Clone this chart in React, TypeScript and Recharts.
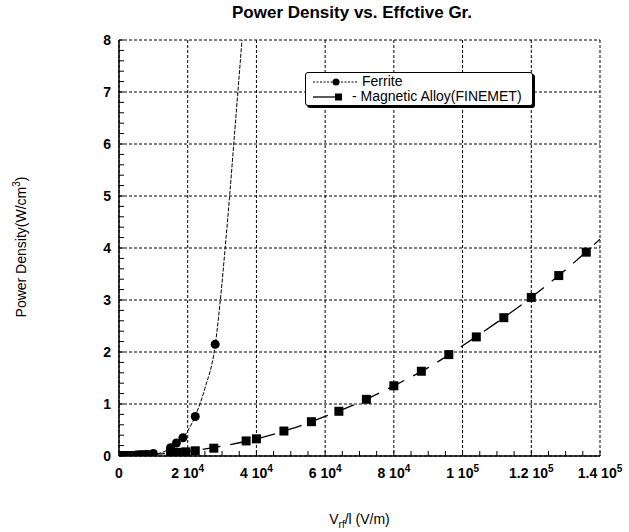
import React from 'react';
import { ComposedChart, Line, XAxis, YAxis, CartesianGrid } from 'recharts';

const ferriteX = [2000, 4000, 6000, 8000, 10000, 15000, 16700, 18600, 22200, 28000];
const ferriteY = [0.01, 0.01, 0.02, 0.03, 0.05, 0.16, 0.25, 0.35, 0.76, 2.15];

const alloyX = [1500, 3000, 4500, 6000, 7500, 9000, 15000, 17000, 19500, 22200, 27600, 37000, 40000, 48000, 56000, 64000, 72000, 80000, 88000, 96000, 104000, 112000, 120000, 128000, 136000];
const alloyY = [0.01, 0.01, 0.01, 0.02, 0.02, 0.02, 0.06, 0.07, 0.08, 0.1, 0.15, 0.29, 0.33, 0.48, 0.66, 0.86, 1.09, 1.35, 1.63, 1.95, 2.29, 2.66, 3.05, 3.47, 3.92];

// fitted curves as drawn in the original
const ferriteFitX = [0, 5000, 10000, 14000, 17000, 20000, 22000, 25000, 28000, 29500, 30900, 32200, 33400, 34600, 35800];
const ferriteFitY = [0, 0.005, 0.03, 0.11, 0.25, 0.48, 0.74, 1.3, 2.13, 3, 4, 5, 6, 7, 8];

const alloyFitX = [0, 10000, 20000, 30000, 40000, 50000, 60000, 70000, 80000, 90000, 100000, 110000, 120000, 130000, 140000];
const alloyFitY = [0, 0.03, 0.09, 0.19, 0.33, 0.52, 0.76, 1.03, 1.35, 1.7, 2.12, 2.57, 3.05, 3.58, 4.17];

const xMajorTicks = [0, 20000, 40000, 60000, 80000, 100000, 120000, 140000];
const xTickMantissa = ['0', '2', '4', '6', '8', '1', '1.2', '1.4'];
const xTickExponent = ['', '4', '4', '4', '4', '5', '5', '5'];
const yMajorTicks = [0, 1, 2, 3, 4, 5, 6, 7, 8];

const xMinorTicks = Array.from({ length: 29 }, (_, i) => i * 5000);
const yMinorTicks = Array.from({ length: 41 }, (_, i) => Math.round(i * 2) / 10);

const toRows = (xs: number[], ys: number[]) => xs.map((x, i) => ({ x, y: ys[i] }));
const ferritePts = toRows(ferriteX, ferriteY);
const alloyPts = toRows(alloyX, alloyY);
const ferriteFit = toRows(ferriteFitX, ferriteFitY);
const alloyFit = toRows(alloyFitX, alloyFitY);

const FONT = '"Liberation Sans", Arial, Helvetica, sans-serif';

const BottomTick = (props: any) => {
  const { x, y, payload } = props;
  const i = xMajorTicks.indexOf(payload.value);
  return (
    <g>
      <line x1={x} y1={y} x2={x} y2={y - 5} stroke="#000" />
      {i >= 0 && (
        <text x={x} y={y + 22} textAnchor="middle" fontWeight="bold" fontSize={14} fill="#000" fontFamily={FONT}>
          {xTickMantissa[i]}
          {xTickExponent[i] !== '' && ' 10'}
          {xTickExponent[i] !== '' && (
            <tspan dy={-6} fontSize={10}>{xTickExponent[i]}</tspan>
          )}
        </text>
      )}
    </g>
  );
};

const TopTick = (props: any) => {
  const { x, y } = props;
  return <line x1={x} y1={y} x2={x} y2={y + 5} stroke="#000" />;
};

const LeftTick = (props: any) => {
  const { x, y, payload } = props;
  const v = payload.value;
  const isMajor = Math.abs(v - Math.round(v)) < 1e-6;
  return (
    <g>
      <line x1={x} y1={y} x2={x + 5} y2={y} stroke="#000" />
      {isMajor && (
        <text x={x - 8} y={y + 5} textAnchor="end" fontWeight="bold" fontSize={14} fill="#000" fontFamily={FONT}>
          {Math.round(v)}
        </text>
      )}
    </g>
  );
};

const RightTick = (props: any) => {
  const { x, y } = props;
  return <line x1={x} y1={y} x2={x - 5} y2={y} stroke="#000" />;
};

const CircleDot = (props: any) => {
  const { cx, cy, index } = props;
  return <circle key={`c${index}`} cx={cx} cy={cy} r={4.5} fill="#000" />;
};

const SquareDot = (props: any) => {
  const { cx, cy, index } = props;
  return <rect key={`s${index}`} x={cx - 4.5} y={cy - 4.5} width={9} height={9} fill="#000" />;
};

export default function App() {
  return (
    <div style={{ position: 'absolute', left: 0, top: 0, width: 629, height: 532, background: '#fff', fontFamily: FONT, overflow: 'hidden' }}>
      <div style={{ position: 'absolute', left: 252, width: 200, top: 3, textAlign: 'center', fontWeight: 'bold', fontSize: 17, color: '#000', whiteSpace: 'nowrap', display: 'flex', justifyContent: 'center' }}>
        Power Density vs. Effctive Gr.
      </div>
      <ComposedChart width={629} height={532} margin={{ top: 40, right: 29, bottom: 0, left: 0 }}>
        <YAxis
          yAxisId="l"
          orientation="left"
          type="number"
          domain={[0, 8]}
          ticks={yMinorTicks}
          interval={0}
          width={119}
          tickSize={0}
          tickMargin={0}
          tickLine={false}
          tick={<LeftTick />}
          axisLine={{ stroke: '#000', strokeWidth: 1.5 }}
          allowDataOverflow
        />
        <YAxis
          yAxisId="r"
          orientation="right"
          type="number"
          domain={[0, 8]}
          ticks={yMinorTicks}
          interval={0}
          width={0}
          tickSize={0}
          tickMargin={0}
          tickLine={false}
          tick={<RightTick />}
          axisLine={{ stroke: '#000', strokeWidth: 1.5 }}
          allowDataOverflow
        />
        <XAxis
          xAxisId="b"
          orientation="bottom"
          dataKey="x"
          type="number"
          domain={[0, 140000]}
          ticks={xMinorTicks}
          interval={0}
          height={76}
          tickSize={0}
          tickMargin={0}
          tickLine={false}
          tick={<BottomTick />}
          axisLine={{ stroke: '#000', strokeWidth: 1.5 }}
          allowDataOverflow
        />
        <XAxis
          xAxisId="t"
          orientation="top"
          dataKey="x"
          type="number"
          domain={[0, 140000]}
          ticks={xMinorTicks}
          interval={0}
          height={0}
          tickSize={0}
          tickMargin={0}
          tickLine={false}
          tick={<TopTick />}
          axisLine={{ stroke: '#000', strokeWidth: 1.5 }}
          allowDataOverflow
        />
        <XAxis xAxisId="g" dataKey="x" type="number" domain={[0, 140000]} ticks={xMajorTicks} height={0} allowDataOverflow hide />
        <YAxis yAxisId="g" type="number" domain={[0, 8]} ticks={yMajorTicks} width={0} allowDataOverflow hide />
        <CartesianGrid xAxisId="g" yAxisId="g" stroke="#000" strokeDasharray="3 2" strokeWidth={1} />

        <Line xAxisId="g" yAxisId="g" data={ferriteFit} dataKey="y" type="monotone" stroke="#000" strokeWidth={1} strokeDasharray="4 1.5" dot={false} isAnimationActive={false} />
        <Line xAxisId="g" yAxisId="g" data={alloyFit} dataKey="y" type="monotone" stroke="#000" strokeWidth={1.3} strokeDasharray="18 10" dot={false} isAnimationActive={false} />
        <Line xAxisId="g" yAxisId="g" data={ferritePts} dataKey="y" stroke="none" dot={<CircleDot />} isAnimationActive={false} />
        <Line xAxisId="g" yAxisId="g" data={alloyPts} dataKey="y" stroke="none" dot={<SquareDot />} isAnimationActive={false} />
      </ComposedChart>

      {/* legend box */}
      <div style={{ position: 'absolute', left: 305, top: 72, width: 226, height: 32, border: '1.5px solid #000', borderRadius: 3, boxShadow: '2px 2px 0 #000', background: '#fff', fontSize: 14, color: '#000' }}>
        <div style={{ position: 'absolute', left: 6, top: 1, height: 15, display: 'flex', alignItems: 'center', lineHeight: '15px', whiteSpace: 'nowrap' }}>
          <svg width={46} height={12}>
            <line x1={1} y1={6} x2={45} y2={6} stroke="#000" strokeWidth={1} strokeDasharray="2 1.5" />
            <circle cx={24} cy={6} r={3.5} fill="#000" />
          </svg>
          <span style={{ marginLeft: 4 }}>Ferrite</span>
        </div>
        <div style={{ position: 'absolute', left: 6, top: 16, height: 15, display: 'flex', alignItems: 'center', lineHeight: '15px', whiteSpace: 'nowrap' }}>
          <svg width={40} height={12}>
            <line x1={1} y1={6} x2={26} y2={6} stroke="#000" strokeWidth={1.3} />
            <rect x={23} y={2.5} width={7} height={7} fill="#000" />
          </svg>
          <span>- Magnetic Alloy(FINEMET)</span>
        </div>
      </div>

      {/* axis titles */}
      <div style={{ position: 'absolute', left: 20, top: 247, transform: 'translate(-50%, -50%) rotate(-90deg)', whiteSpace: 'nowrap', fontSize: 14, color: '#000' }}>
        Power Density(W/cm<sup style={{ fontSize: 10 }}>3</sup>)
      </div>
      <div style={{ position: 'absolute', left: 119, width: 481, top: 511, textAlign: 'center', fontSize: 14, color: '#000' }}>
        V<sub style={{ fontSize: 10 }}>rf</sub>/l (V/m)
      </div>
    </div>
  );
}
